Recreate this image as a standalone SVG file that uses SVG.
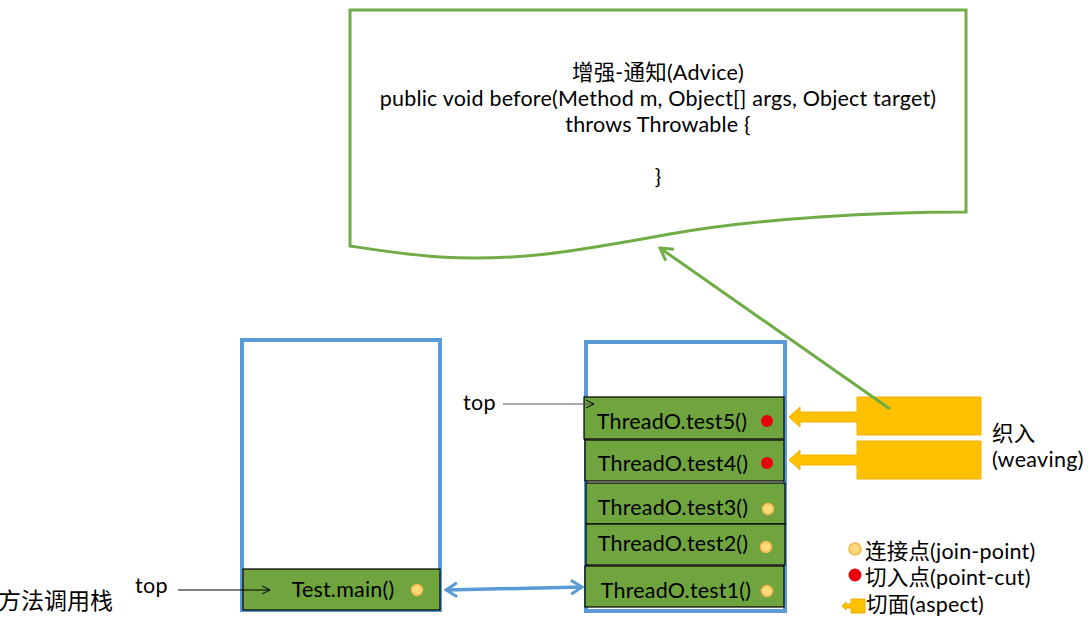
<svg xmlns="http://www.w3.org/2000/svg" width="1088" height="633" viewBox="0 0 1088 633">
<defs>
<style>
text{font-family:Lato,"Noto Sans CJK SC",sans-serif;fill:#000}
.t{font-size:21.5px;letter-spacing:0.2px}
.box{fill:none;stroke:#5B9BD5;stroke-width:4}
.frame{fill:#6FA43F;stroke:#000;stroke-width:1.2}
.jp{fill:#FFD97A;stroke:#F5B64A;stroke-width:1.5}
.pc{fill:#E8000B}
.yel{fill:#FFC000;stroke:#F0B000;stroke-width:1}
.lb{font-size:21.5px;letter-spacing:0.3px}
.lg{font-size:21.5px;letter-spacing:0.2px}
</style>
<marker id="thin" markerWidth="10" markerHeight="10" refX="9" refY="5" orient="auto" markerUnits="userSpaceOnUse">
<path d="M1,1 L9,5 L1,9" fill="none" stroke="#000" stroke-width="1"/>
</marker>
<marker id="green" markerWidth="20" markerHeight="20" refX="18" refY="10" orient="auto" markerUnits="userSpaceOnUse">
<path d="M6,3 L18,10 L6,17" fill="none" stroke="#70AD47" stroke-width="3"/>
</marker>
<marker id="blueS" markerWidth="20" markerHeight="20" refX="2" refY="10" orient="auto" markerUnits="userSpaceOnUse">
<path d="M13,3 L2,10 L13,17" fill="none" stroke="#5B9BD5" stroke-width="3"/>
</marker>
<marker id="blueE" markerWidth="20" markerHeight="20" refX="18" refY="10" orient="auto" markerUnits="userSpaceOnUse">
<path d="M7,3 L18,10 L7,17" fill="none" stroke="#5B9BD5" stroke-width="3"/>
</marker>
</defs>
<rect width="1088" height="633" fill="#fff"/>

<g id="advice">
<path d="M350,10 L966,10 L966,212 C880,212 760,218 670,234 C580,250 520,262 440,257 C400,254 370,249 350,246 Z" fill="#fff" stroke="#70AD47" stroke-width="3"/>
<text class="t" x="658" y="80" text-anchor="middle">增强-通知(Advice)</text>
<text class="t" x="658" y="106" text-anchor="middle">public void before(Method m, Object[] args, Object target)</text>
<text class="t" x="658" y="132" text-anchor="middle">throws Throwable {</text>
<text class="t" x="658" y="184" text-anchor="middle">}</text>
</g>

<g id="stack-left">
<rect class="box" x="242" y="340" width="198" height="270"/>
</g>
<g id="stack-right">
<rect class="box" x="586" y="342" width="199" height="269"/>
</g>

<g id="main">
<rect class="frame" x="243" y="569" width="197" height="41"/>
<text class="t" x="343" y="597" text-anchor="middle">Test.main()</text>
<circle class="jp" cx="417" cy="590" r="5.5"/>
</g>
<g id="test5">
<rect class="frame" x="584" y="397" width="200" height="42"/>
<text class="t" x="672" y="429" text-anchor="middle">ThreadO.test5()</text>
<circle class="pc" cx="767" cy="421" r="6"/>
</g>
<g id="test4">
<rect class="frame" x="585" y="440" width="199" height="41"/>
<text class="t" x="673" y="471" text-anchor="middle">ThreadO.test4()</text>
<circle class="pc" cx="767" cy="463" r="6"/>
</g>
<g id="test3">
<rect class="frame" x="586" y="483" width="199" height="41"/>
<text class="t" x="673" y="515" text-anchor="middle">ThreadO.test3()</text>
<circle class="jp" cx="768" cy="509" r="5.5"/>
</g>
<g id="test2">
<rect class="frame" x="586" y="524" width="199" height="41"/>
<text class="t" x="673" y="551" text-anchor="middle">ThreadO.test2()</text>
<circle class="jp" cx="766" cy="547" r="5.5"/>
</g>
<g id="test1">
<rect class="frame" x="585" y="566" width="199" height="41"/>
<text class="t" x="676" y="598" text-anchor="middle">ThreadO.test1()</text>
<circle class="jp" cx="767" cy="591" r="5.5"/>
</g>

<g id="aspect1">
<path class="yel" d="M857,397 L981,397 L981,435 L857,435 L857,422 L800,422 L800,427 L789,417 L800,407 L800,412 L857,412 Z"/>
</g>
<g id="aspect2">
<path class="yel" d="M857,441 L981,441 L981,479 L857,479 L857,465 L800,465 L800,470 L789,460 L800,450 L800,455 L857,455 Z"/>
</g>

<g id="labels">
<text class="lb" x="992" y="441">织入</text>
<text class="lb" x="992" y="467">(weaving)</text>
<text class="lb" x="463" y="410">top</text>
<text class="lb" x="135" y="593">top</text>
<text x="-2" y="609" style="font-size:23px">方法调用栈</text>
</g>

<g id="legend">
<circle class="jp" cx="855" cy="549" r="6"/>
<text class="lg" x="865" y="559">连接点(join-point)</text>
<circle class="pc" cx="855" cy="575" r="6.5"/>
<text class="lg" x="865" y="585">切入点(point-cut)</text>
<path class="yel" d="M851,599 L865,599 L865,613 L851,613 L851,608 L846,608 L846,610 L842,606 L846,602 L846,604 L851,604 Z"/>
<text class="lg" x="866" y="612">切面(aspect)</text>
</g>

<g id="connectors">
<line x1="503" y1="404" x2="594" y2="404" stroke="#555" stroke-width="1.2" marker-end="url(#thin)"/>
<line x1="178" y1="590" x2="270" y2="590" stroke="#000" stroke-width="1.2" marker-end="url(#thin)"/>
<line x1="446" y1="590" x2="582" y2="587" stroke="#5B9BD5" stroke-width="3.5" marker-start="url(#blueS)" marker-end="url(#blueE)"/>
<line x1="890" y1="409" x2="660" y2="248" stroke="#70AD47" stroke-width="3" marker-end="url(#green)"/>
</g>
</svg>
